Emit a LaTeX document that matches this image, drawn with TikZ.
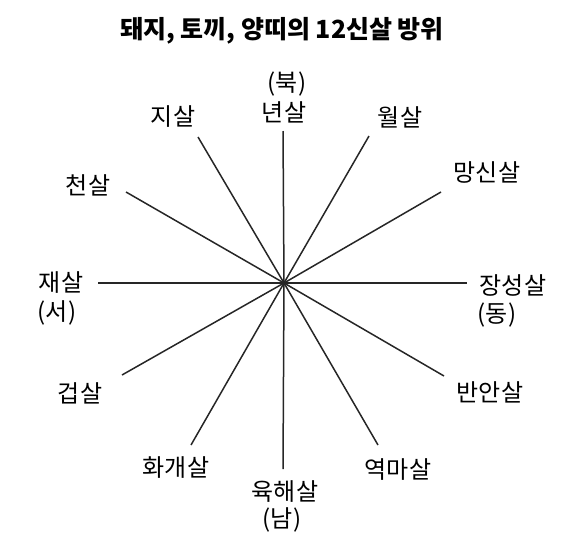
\documentclass[tikz,border=0pt]{standalone}
\usepackage{fontspec}
\setmainfont{Noto Sans CJK KR}
\tikzset{
  spoke/.style={line width=1.5pt, black!85},
  lbl/.style={font=\fontsize{24}{26}\selectfont, inner sep=0pt},
  ttl/.style={font=\fontsize{25}{28}\selectfont\bfseries, inner sep=0pt}
}
\begin{document}
\begin{tikzpicture}[x=1pt,y=-1pt]
  \useasboundingbox (0,0) rectangle (583,552);
  % Title
  \node[ttl] (title) at (282,31) {돼지, 토끼, 양띠의 12신살 방위};
  % Centre and spoke ends
  \coordinate (c) at (284,283);
  \coordinate (eN) at (283,131);
  \coordinate (eJi) at (198,137);
  \coordinate (eWol) at (369,136);
  \coordinate (eCheon) at (126,192);
  \coordinate (eMang) at (441,192);
  \coordinate (eW) at (98,283);
  \coordinate (eE) at (467,283);
  \coordinate (eGeop) at (122,375);
  \coordinate (eBan) at (444,376);
  \coordinate (eHwa) at (191,445);
  \coordinate (eYeok) at (378,445);
  \coordinate (eS) at (283,469);
  % Spokes
  \draw[spoke] (c) -- (eN);
  \draw[spoke] (c) -- (eJi);
  \draw[spoke] (c) -- (eWol);
  \draw[spoke] (c) -- (eCheon);
  \draw[spoke] (c) -- (eMang);
  \draw[spoke] (c) -- (eW);
  \draw[spoke] (c) -- (eE);
  \draw[spoke] (c) -- (eGeop);
  \draw[spoke] (c) -- (eBan);
  \draw[spoke] (c) -- (eHwa);
  \draw[spoke] (c) -- (eYeok);
  \draw[spoke] (c) -- (eS);
  % Labels
  \node[lbl] (north) at (287,84) {(북)};
  \node[lbl] (nyeon) at (284,112) {년살};
  \node[lbl] (ji) at (173,117) {지살};
  \node[lbl] (wol) at (400,117) {월살};
  \node[lbl] (cheon) at (88,185) {천살};
  \node[lbl] (mang) at (487,172) {망신살};
  \node[lbl] (jae) at (61,283) {재살};
  \node[lbl] (west) at (57,313) {(서)};
  \node[lbl] (jang) at (513,285) {장성살};
  \node[lbl] (east) at (497,315) {(동)};
  \node[lbl] (geop) at (80,393) {겁살};
  \node[lbl] (banan) at (490,392) {반안살};
  \node[lbl] (hwa) at (176,468) {화개살};
  \node[lbl] (yeok) at (398,470) {역마살};
  \node[lbl] (yuk) at (285,492) {육해살};
  \node[lbl] (south) at (282,520) {(남)};
\end{tikzpicture}
\end{document}
